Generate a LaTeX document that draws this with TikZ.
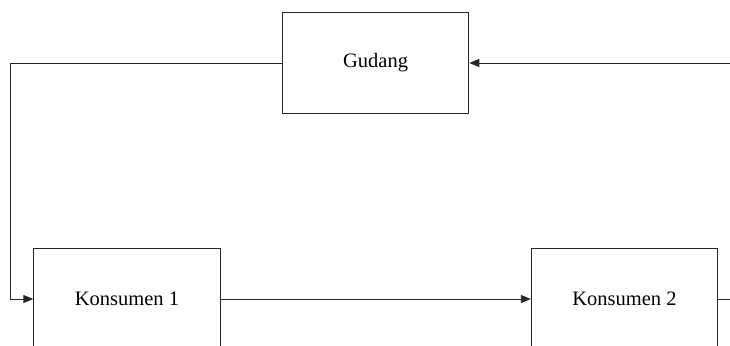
\documentclass[tikz,border=0pt]{standalone}
\usepackage{fontspec}
\setmainfont{Liberation Serif}
\usetikzlibrary{arrows.meta}
\begin{document}
\begin{tikzpicture}[x=1pt,y=-1pt,
  box/.style={draw=black!85,line width=0.9pt,minimum width=186.5pt,minimum height=101pt,inner sep=0pt,font=\fontsize{20.5}{23}\selectfont},
  conn/.style={draw=black!85,line width=0.9pt},
  tip/.style={-{Triangle[length=10pt,width=8pt]}}]
\clip (0,0) rectangle (730,345);
\fill[white] (0,0) rectangle (730,345);
\node[box] (gudang) at (375.6,63) {Gudang};
\node[box] (k1) at (127,299) {Konsumen 1};
\node[box] (k2) at (624.5,299) {Konsumen 2};
\coordinate (a1) at (10,63);
\coordinate (a2) at (10,299);
\coordinate (rin) at (731,63);
\coordinate (rout) at (731,299);
\draw[conn,tip] (gudang.west) -- (a1) -- (a2) -- (k1.west);
\draw[conn,tip] (k1.east) -- (k2.west);
\draw[conn,tip] (rin) -- (gudang.east);
\draw[conn] (k2.east) -- (rout);
\end{tikzpicture}
\end{document}
